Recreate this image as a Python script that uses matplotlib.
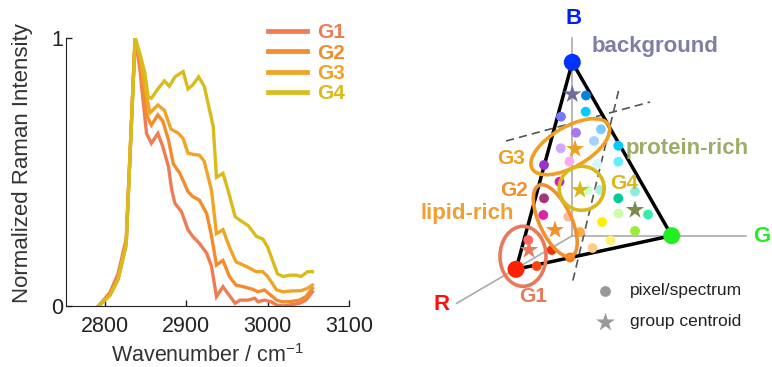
import matplotlib
matplotlib.use("Agg")
import matplotlib.pyplot as plt
from matplotlib.patches import Ellipse
from matplotlib.lines import Line2D

plt.rcParams['font.family'] = ['Liberation Sans', 'DejaVu Sans']
plt.rcParams['mathtext.fontset'] = 'custom'
plt.rcParams['mathtext.rm'] = 'Liberation Sans'
plt.rcParams['mathtext.it'] = 'Liberation Sans:italic'

# ---------------- spectra data ----------------
g1_x = [2792, 2806, 2816, 2826, 2837, 2843, 2851, 2857, 2865, 2871, 2878, 2882, 2886, 2894, 2902,
        2908, 2916, 2925, 2931, 2937, 2945, 2951, 2960, 2966, 2976, 2984, 2988, 2996, 3004, 3011,
        3019, 3027, 3039, 3047, 3055]
g1_y = [0.0, 0.05, 0.12, 0.25, 1.0, 0.88, 0.644, 0.607, 0.644, 0.595, 0.52, 0.433, 0.383, 0.352, 0.284,
        0.259, 0.234, 0.197, 0.147, 0.035, 0.072, 0.047, 0.01, 0.022, 0.022, 0.029, 0.016, 0.022, 0.016, 0.004,
        0.0, 0.004, 0.01, 0.022, 0.053]

g2_x = [2792, 2806, 2816, 2826, 2837, 2843, 2851, 2857, 2865, 2871, 2878, 2884, 2892, 2902, 2908,
        2916, 2925, 2931, 2937, 2945, 2953, 2961, 2970, 2982, 2988, 2996, 3004, 3011, 3017, 3027,
        3039, 3047, 3055]
g2_y = [0.0, 0.04, 0.10, 0.23, 1.0, 0.90, 0.713, 0.675, 0.713, 0.69, 0.62, 0.53, 0.495, 0.427, 0.408,
        0.395, 0.345, 0.26, 0.153, 0.17, 0.11, 0.078, 0.072, 0.062, 0.053, 0.06, 0.04, 0.022, 0.016, 0.016,
        0.022, 0.035, 0.066]

g3_x = [2792, 2806, 2816, 2826, 2837, 2843, 2849, 2855, 2865, 2873, 2881, 2890, 2896, 2902, 2910,
        2916, 2922, 2931, 2937, 2945, 2953, 2961, 2974, 2986, 2994, 3000, 3011, 3019, 3029, 3041,
        3049, 3055]
g3_y = [0.0, 0.04, 0.10, 0.23, 1.0, 0.93, 0.82, 0.72, 0.75, 0.73, 0.66, 0.645, 0.625, 0.57, 0.565,
        0.563, 0.54, 0.43, 0.27, 0.285, 0.22, 0.165, 0.147, 0.128, 0.128, 0.11, 0.06, 0.053, 0.056, 0.057,
        0.066, 0.078]

g4_x = [2792, 2806, 2816, 2826, 2837, 2843, 2849, 2853, 2857, 2865, 2873, 2879, 2886, 2896, 2902,
        2908, 2915, 2922, 2933, 2937, 2945, 2951, 2960, 2966, 2976, 2986, 2994, 3000, 3012, 3019,
        3027, 3035, 3041, 3049, 3055]
g4_y = [0.0, 0.04, 0.10, 0.23, 1.0, 0.94, 0.87, 0.78, 0.775, 0.81, 0.84, 0.82, 0.855, 0.875, 0.81,
        0.825, 0.855, 0.82, 0.67, 0.48, 0.495, 0.435, 0.333, 0.32, 0.30, 0.26, 0.25, 0.22, 0.12, 0.11,
        0.115, 0.115, 0.11, 0.128, 0.128]

group_names = ['G1', 'G2', 'G3', 'G4']
group_colors = ['#EE7C55', '#F48C2C', '#F0A424', '#D9BC1C']
x_ticks = [2800, 2900, 3000, 3100]
y_ticks = [0, 1]

# ---------------- schematic data (panel pixel space) ----------------
vert_names = ['B', 'G', 'R']
vert_x = [572.3, 671.7, 516.0]
vert_y = [62.3, 235.7, 269.3]
vert_colors = ['#0033FF', '#22EE22', '#FF2200']

axis_origin = (572.3, 235.7)
axis_ends_x = [572.3, 746.0, 456.7]
axis_ends_y = [38.0, 235.7, 303.3]

dot_x = [586, 561, 585.7, 576, 601, 594, 560.7, 618.3, 569.3, 544, 618.3, 559.5, 544, 587.3, 600,
         635, 618.3, 543.3, 568.3, 618.3, 602, 648, 635, 610.5, 592.5, 580, 570, 528.3, 551.7, 536.7, 597]
dot_y = [95.5, 116.7, 111.7, 132.7, 129.3, 141, 148.3, 145.7, 161.5, 165, 161.7, 181.7, 198.3, 190, 190,
         191.5, 198.3, 215, 216.7, 213.5, 222, 214.5, 231, 240.5, 248, 232, 257.5, 240, 250, 266, 164]
dot_colors = ['#0A80DD', '#7878FF', '#00CCFF', '#A878F0', '#77CCFF', '#A8D0FF', '#D0A8FF', '#00CCFF',
              '#FFAAF0', '#9933CC', '#66EEFF', '#CC22BB', '#AA3377', '#CCFFCC', '#AAEEDD', '#88EEDD',
              '#00CC99', '#DD22AA', '#FFB8A8', '#CCFFAA', '#FFEE00', '#33EEAA', '#99EE33', '#FFEE77',
              '#FFCC88', '#FFAA44', '#FF7711', '#FF6666', '#EE3311', '#FF4411', '#D8F4FF']

star_x = [572.3, 575, 580, 635, 555, 529]
star_y = [94.3, 149, 190, 210, 230, 250]
star_colors = ['#6E6E9E', '#F0A020', '#D9B81A', '#7B8B4B', '#F28F2E', '#E8795A']

ell_cx = [523, 555.3, 570.3, 581.7]          # G1, G2, G3, G4
ell_cy = [256.3, 220.7, 146.7, 188.3]
ell_w = [46, 78, 88, 45]
ell_h = [60, 32, 40, 44]
ell_ang = [0, 65, -30, 0]
ell_colors = ['#E8795A', '#F28F2E', '#EFA020', '#D8B81A']

lab_x = [533, 513.7, 510.8, 624]
lab_y = [296.7, 190, 158.3, 183.3]

dash1_x = [506, 650]; dash1_y = [141, 102]
dash2_x = [618.5, 572.5]; dash2_y = [91, 282]

# ---------------- figure ----------------
fig = plt.figure(figsize=(7.72, 3.67), dpi=100)
ax = fig.add_axes([66/772, 1-306/367, (349-66)/772, (306-38)/367])

for xs, ys, c in zip([g1_x, g2_x, g3_x, g4_x], [g1_y, g2_y, g3_y, g4_y], group_colors):
    ax.plot(xs, ys, color=c, lw=2.4, solid_joinstyle='miter')

ax.set_xlim(2752, 3100)
ax.set_ylim(0, 1)
ax.set_xticks(x_ticks)
ax.set_yticks(y_ticks)
ax.set_yticklabels(['0', '1'])
ax.tick_params(direction='in', length=4, width=1, labelsize=15.5, colors='#222222')
ax.tick_params(axis='x', pad=7)
ax.tick_params(axis='y', pad=2)
for s in ['top', 'right']:
    ax.spines[s].set_visible(False)
for s in ['left', 'bottom']:
    ax.spines[s].set_color('#222222')
ax.set_xlabel('Wavenumber / cm$^{-1}$', fontsize=15.5, color='#333333', labelpad=5)
ax.set_ylabel('Normalized Raman Intensity', fontsize=16, color='#333333')
ax.yaxis.set_label_coords(-0.117, 0.535)

handles = [Line2D([0], [0], color=c, lw=3.4) for c in group_colors]
leg = fig.legend(handles, group_names, loc='upper left', bbox_to_anchor=(258/772, 1-13/367),
                 frameon=False, handlelength=1.87, handletextpad=0.48, labelspacing=0.065,
                 prop={'weight': 'bold', 'size': 15}, labelcolor=group_colors, borderpad=0)

# ---------------- schematic ----------------
ov = fig.add_axes([0, 0, 1, 1])
ov.set_xlim(0, 772)
ov.set_ylim(367, 0)
ov.axis('off')
ov.patch.set_alpha(0)

for ex, ey in zip(axis_ends_x, axis_ends_y):
    ov.plot([axis_origin[0], ex], [axis_origin[1], ey], color='#AAAAAA', lw=1.2, zorder=1)

ov.plot(dash1_x, dash1_y, color='#555555', lw=1.2, ls=(0, (5, 3)), zorder=2)
ov.plot(dash2_x, dash2_y, color='#555555', lw=1.2, ls=(0, (5, 3)), zorder=2)

tri_x = vert_x + [vert_x[0]]
tri_y = vert_y + [vert_y[0]]
ov.plot(tri_x, tri_y, color='black', lw=2.5, zorder=3, solid_joinstyle='miter')

ov.scatter(dot_x, dot_y, s=50, c=dot_colors, linewidths=0, zorder=4)

for cx, cy, w, h, a, c in zip(ell_cx, ell_cy, ell_w, ell_h, ell_ang, ell_colors):
    ov.add_patch(Ellipse((cx, cy), w, h, angle=a, fill=False, ec=c, lw=2.6, zorder=5))

ov.scatter(star_x, star_y, s=190, marker='*', c=star_colors, linewidths=0, zorder=6)
ov.scatter(vert_x, vert_y, s=150, c=vert_colors, linewidths=0, zorder=7)

for n, x, y, c in zip(group_names, lab_x, lab_y, ell_colors):
    ov.text(x, y, n, color=c, fontsize=15, fontweight='bold', ha='center', va='center', zorder=8)

ov.text(573.3, 18.5, 'B', color='#0022EE', fontsize=16, fontweight='bold', ha='center', va='center')
ov.text(441.7, 305, 'R', color='#FF1010', fontsize=16, fontweight='bold', ha='center', va='center')
ov.text(753, 236, 'G', color='#22EE22', fontsize=16, fontweight='bold', ha='left', va='center')

ov.text(591.5, 46.7, 'background', color='#7E7EA6', fontsize=16, fontweight='bold', ha='left', va='center')
ov.text(626, 148.3, 'protein-rich', color='#9AAE6A', fontsize=16, fontweight='bold', ha='left', va='center')
ov.text(420.7, 213.3, 'lipid-rich', color='#F0A030', fontsize=16, fontweight='bold', ha='left', va='center')

ov.scatter([605], [290.7], s=60, c='#999999', linewidths=0)
ov.scatter([605], [321.7], s=200, marker='*', c='#999999', linewidths=0)
ov.text(630, 290.7, 'pixel/spectrum', fontsize=12.5, color='#222222', ha='left', va='center')
ov.text(630, 321.7, 'group centroid', fontsize=12.5, color='#222222', ha='left', va='center')

fig.savefig('out.png', dpi=100)
